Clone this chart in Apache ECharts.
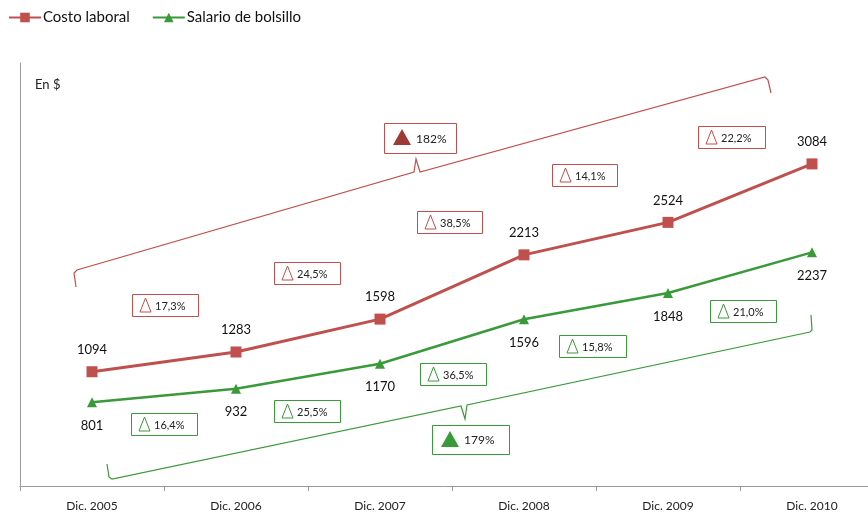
<!DOCTYPE html>
<html>
<head>
<meta charset="utf-8">
<script src="https://cdn.jsdelivr.net/npm/echarts@6/dist/echarts.min.js"></script>
<style>
  html, body { margin: 0; padding: 0; background: #fff; }
  #main { width: 868px; height: 516px; }
</style>
</head>
<body>
<div id="main"></div>
<script>
const categories = ['Dic. 2005', 'Dic. 2006', 'Dic. 2007', 'Dic. 2008', 'Dic. 2009', 'Dic. 2010'];
const costoLaboral = [1094, 1283, 1598, 2213, 2524, 3084];
const salarioBolsillo = [801, 932, 1170, 1596, 1848, 2237];
const costoGrowth = ['17,3%', '24,5%', '38,5%', '14,1%', '22,2%'];
const salarioGrowth = ['16,4%', '25,5%', '36,5%', '15,8%', '21,0%'];
const costoTotal = '182%';
const salarioTotal = '179%';

const RED = '#C0504D';
const GREEN = '#3A9A3A';
const FONT = 'Lato';

// annotation box placement (left, top, width, height)
const costoBoxes = [[132, 294, 66, 22], [274, 262, 66, 22], [417, 211, 65, 22], [552, 164, 65, 22], [698, 126, 67, 22]];
const salarioBoxes = [[131, 413, 66, 22], [274, 400, 66, 22], [420, 363, 66, 22], [559, 335, 67, 22], [710, 300, 66, 22]];
const costoTotalBox = [384, 123, 72, 30];
const salarioTotalBox = [432, 425, 77, 29];
const costoBrace = [[76, 287], [74, 273], [77, 270], [414, 172], [416, 159], [420, 172], [765, 77], [768, 80], [771, 93]];
const salarioBrace = [[107, 464], [109, 477], [112, 479], [461, 406], [465, 419], [467, 405], [810, 332], [812, 330], [811, 315]];

function growthBox(b, text, color) {
  const [x, y, w, h] = b;
  return {
    type: 'group',
    children: [
      { type: 'rect', shape: { x: x + 0.5, y: y + 0.5, width: w, height: h }, style: { fill: '#fff', stroke: color, lineWidth: 1 } },
      { type: 'polygon', shape: { points: [[x + 13.5, y + 4], [x + 8, y + 18], [x + 19, y + 18]] }, style: { fill: 'none', stroke: color, lineWidth: 1 } },
      { type: 'text', x: x + 23, y: y + h / 2 + 1, style: { text: text, fill: '#222', font: '11px ' + FONT, textVerticalAlign: 'middle' } }
    ]
  };
}

function totalBox(b, text, color, fillTri) {
  const [x, y, w, h] = b;
  return {
    type: 'group',
    children: [
      { type: 'rect', shape: { x: x + 0.5, y: y + 0.5, width: w, height: h }, style: { fill: '#fff', stroke: color, lineWidth: 1 } },
      { type: 'polygon', shape: { points: [[x + 18, y + 6], [x + 9, y + 22], [x + 27, y + 22]] }, style: { fill: fillTri } },
      { type: 'text', x: x + 32, y: y + h / 2 + 1, style: { text: text, fill: '#222', font: '12px ' + FONT, textVerticalAlign: 'middle' } }
    ]
  };
}

const graphics = [
  { type: 'text', left: 35, top: 78, style: { text: 'En $', fill: '#222', font: '13px ' + FONT } },
  { type: 'polyline', shape: { points: costoBrace }, style: { stroke: RED, lineWidth: 1.2, fill: 'none' } },
  { type: 'polyline', shape: { points: salarioBrace }, style: { stroke: GREEN, lineWidth: 1.2, fill: 'none' } },
  totalBox(costoTotalBox, costoTotal, RED, '#9E3A36'),
  totalBox(salarioTotalBox, salarioTotal, GREEN, '#3A9A3A')
];
costoGrowth.forEach((t, i) => graphics.push(growthBox(costoBoxes[i], t, RED)));
salarioGrowth.forEach((t, i) => graphics.push(growthBox(salarioBoxes[i], t, GREEN)));

const chart = echarts.init(document.getElementById('main'), null, { renderer: 'canvas' });
chart.setOption({
  animation: false,
  textStyle: { fontFamily: FONT },
  legend: {
    left: 3,
    top: 5,
    itemWidth: 32,
    itemHeight: 12,
    itemGap: 22,
    textStyle: { fontSize: 15, color: '#111', fontFamily: FONT, padding: [0, 0, 0, -3] },
    data: ['Costo laboral', 'Salario de bolsillo']
  },
  grid: { left: 20, top: 63, width: 864, height: 423, outerBoundsMode: 'none', containLabel: false },
  xAxis: {
    type: 'category',
    data: categories,
    boundaryGap: true,
    axisLine: { lineStyle: { color: '#999' } },
    axisTick: { show: true, length: 5, lineStyle: { color: '#999' } },
    axisLabel: { color: '#222', fontSize: 12, margin: 14, fontFamily: FONT }
  },
  yAxis: {
    type: 'value',
    min: 0,
    max: 4050,
    axisLine: { show: true, lineStyle: { color: '#999' } },
    axisTick: { show: false },
    axisLabel: { show: false },
    splitLine: { show: false }
  },
  series: [
    {
      name: 'Costo laboral',
      type: 'line',
      data: costoLaboral,
      symbol: 'rect',
      symbolSize: 11,
      lineStyle: { color: RED, width: 3 },
      itemStyle: { color: RED },
      label: { show: true, position: 'top', distance: 10, color: '#111', fontSize: 13, fontFamily: FONT }
    },
    {
      name: 'Salario de bolsillo',
      type: 'line',
      data: salarioBolsillo,
      symbol: 'triangle',
      symbolSize: 10,
      lineStyle: { color: GREEN, width: 2.5 },
      itemStyle: { color: GREEN },
      label: { show: true, position: 'bottom', distance: 12, color: '#111', fontSize: 13, fontFamily: FONT }
    }
  ],
  graphic: graphics
});
</script>
</body>
</html>
